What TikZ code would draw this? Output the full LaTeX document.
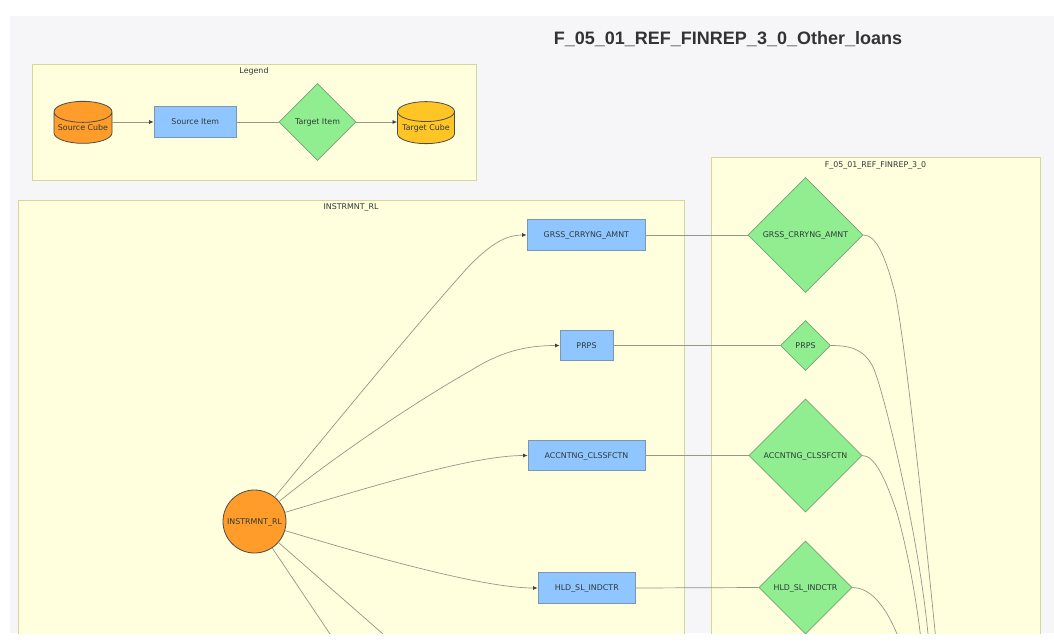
\documentclass[tikz,border=0pt]{standalone}
\usepackage{fontspec}
\setmainfont{DejaVu Sans}
\newfontfamily\titlefont{Liberation Sans}
\usetikzlibrary{arrows.meta,shapes.geometric}
\definecolor{pagebg}{HTML}{F6F6F8}
\definecolor{clusterfill}{HTML}{FFFFDE}
\definecolor{clusterline}{HTML}{D6D696}
\definecolor{itemfill}{HTML}{90C6FF}
\definecolor{itemline}{HTML}{7A96B0}
\definecolor{targetfill}{HTML}{90EE90}
\definecolor{targetline}{HTML}{74A474}
\definecolor{srcfill}{HTML}{FF9C2A}
\definecolor{tgtfill}{HTML}{FFC524}
\definecolor{inktext}{HTML}{2F3A3A}
\definecolor{edgeline}{HTML}{96968A}
\tikzset{
  lbl/.style={font=\fontsize{7.9}{9}\selectfont, text=inktext, inner sep=0pt, text height=5.8pt, text depth=0pt},
  cluster/.style={draw=clusterline, fill=clusterfill, line width=0.9pt},
  itembox/.style={lbl, draw=itemline, fill=itemfill, line width=0.9pt, minimum height=30.5pt},
  targetitem/.style={lbl, diamond, aspect=1, draw=targetline, fill=targetfill, line width=0.7pt},
  cube/.style={lbl, cylinder, shape border rotate=90, aspect=0.42, shape aspect=0.42, draw=black!70, line width=0.8pt, minimum height=42pt},
  link/.style={draw=edgeline, line width=0.7pt},
  flow/.style={link, -{Latex[length=4.5pt,width=4pt,black!75]}}
}
\begin{document}
\begin{tikzpicture}[x=1pt,y=-1pt]
\useasboundingbox (0,0) rectangle (1054,643);
\begin{scope}
\clip (10,16) rectangle (1054,633);
\fill[pagebg] (10,16) rectangle (1054,633);
\draw[cluster] (32,64) rectangle (476,180);
\draw[cluster] (18.5,200) rectangle (684,700);
\draw[cluster] (711.5,157.5) rectangle (1040.5,700);
\node (titleText) at (728,39) {\titlefont\bfseries\fontsize{18}{21}\selectfont\color{black!80} F\_05\_01\_REF\_FINREP\_3\_0\_Other\_loans};
\node[lbl] (legendText) at (254,71) {Legend};
\node[lbl] (instrText) at (351,206.5) {INSTRMNT\_RL};
\node[lbl] (finrepText) at (875.5,164.5) {F\_05\_01\_REF\_FINREP\_3\_0};
% legend
\node[cube, fill=srcfill, minimum width=58pt] (srcCube) at (83,127.8) {Source Cube};
\node[itembox, minimum width=82.5pt] (srcItem) at (195.3,122) {Source Item};
\node[targetitem, minimum width=77pt, minimum height=77pt] (tgtItem) at (317.5,122) {Target Item};
\node[cube, fill=tgtfill, minimum width=57pt] (tgtCube) at (426,127.8) {Target Cube};
% source items
\node[lbl, circle, draw=black!70, fill=srcfill, line width=0.8pt, minimum size=63pt] (instr) at (254.5,521.5) {INSTRMNT\_RL};
\node[itembox, minimum width=118.5pt] (srcGrss) at (586.3,235) {GRSS\_CRRYNG\_AMNT};
\node[itembox, minimum width=53pt] (srcPrps) at (586.5,345.5) {PRPS};
\node[itembox, minimum width=117pt] (srcAcc) at (586.5,455.5) {ACCNTNG\_CLSSFCTN};
\node[itembox, minimum width=97.5pt] (srcHld) at (586.8,588) {HLD\_SL\_INDCTR};
% target items
\node[targetitem, minimum width=115pt, minimum height=115pt] (tgtGrss) at (805.5,235) {GRSS\_CRRYNG\_AMNT};
\node[targetitem, minimum width=50pt, minimum height=50pt] (tgtPrps) at (805.5,345.5) {PRPS};
\node[targetitem, minimum width=113pt, minimum height=113pt] (tgtAcc) at (805.5,455.5) {ACCNTNG\_CLSSFCTN};
\node[targetitem, minimum width=93pt, minimum height=93pt] (tgtHld) at (805.5,587.5) {HLD\_SL\_INDCTR};
% free ends
\coordinate (outA) at (330,634);
\coordinate (outB) at (383,634);
\coordinate (outGrss) at (935.3,634);
\coordinate (outPrps) at (928,634);
\coordinate (outAcc) at (920.3,634);
\coordinate (outHld) at (897,634);
% legend edges
\draw[flow] (srcCube.east |- srcItem.west) -- (srcItem.west);
\draw[link] (srcItem.east) -- (tgtItem.west);
\draw[flow] (tgtItem.east) -- (tgtCube.west |- tgtItem.east);
% fan out
\draw[flow] (instr) .. controls (330,430) and (420,320) .. (470,265) .. controls (490,245) and (505,235) .. (srcGrss.west);
\draw[flow] (instr) .. controls (330,460) and (410,405) .. (470,371) .. controls (500,352) and (525,345.5) .. (srcPrps.west);
\draw[flow] (instr) .. controls (360,490) and (470,455.5) .. (srcAcc.west);
\draw[flow] (instr) .. controls (360,553) and (480,588) .. (srcHld.west);
\draw[link] (instr) -- (outA);
\draw[link] (instr) -- (outB);
% straight through
\draw[link] (srcGrss.east) -- (tgtGrss.west);
\draw[link] (srcPrps.east) -- (tgtPrps.west);
\draw[link] (srcAcc.east) -- (tgtAcc.west);
\draw[link] (srcHld.east) -- (tgtHld.west);
% to target cube
\draw[link] (tgtGrss.east) .. controls (876,235) and (885,255) .. (895,293) .. controls (905,340) and (925,530) .. (outGrss);
\draw[link] (tgtPrps.east) .. controls (850,345.5) and (864,349) .. (873,367) .. controls (882,385) and (918,530) .. (outPrps);
\draw[link] (tgtAcc.east) .. controls (875,455.5) and (886,480) .. (897,513) .. controls (906,545) and (915,590) .. (outAcc);
\draw[link] (tgtHld.east) .. controls (866,587.5) and (882,598) .. (outHld);
\end{scope}
\end{tikzpicture}
\end{document}
